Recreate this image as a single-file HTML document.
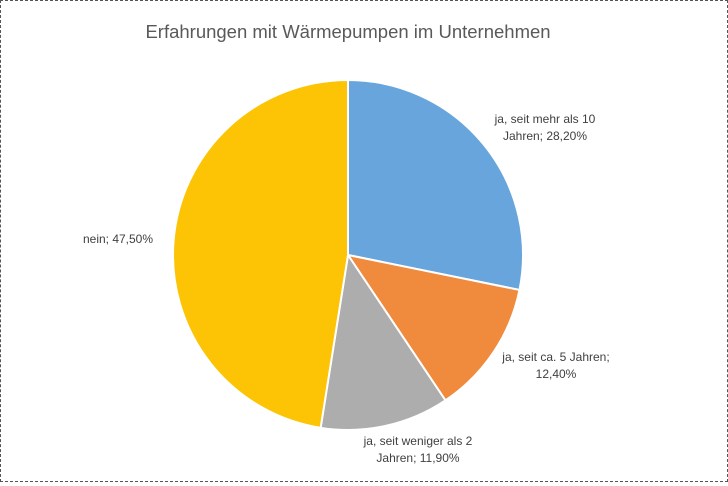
<!DOCTYPE html>
<html><head><meta charset="utf-8"><style>
body{margin:0;background:#fff;}
#wrap{position:relative;width:728px;height:482px;box-sizing:border-box;border:1px dashed #555;background:#fff;font-family:"Liberation Sans",sans-serif;}
</style></head><body>
<div id="wrap">
<svg id="svg" width="726" height="480">
<text x="347" y="37" text-anchor="middle" font-size="18.5" fill="#595959">Erfahrungen mit Wärmepumpen im Unternehmen</text>
</svg>
</div>
<script>
const categories=["ja, seit mehr als 10 Jahren","ja, seit ca. 5 Jahren","ja, seit weniger als 2 Jahren","nein"];
const values=[28.2,12.4,11.9,47.5];
const valueLabels=["28,20%","12,40%","11,90%","47,50%"];
const colors=["#67a5dc","#f08a3c","#adadad","#fcc404"];
const labelLines=[["ja, seit mehr als 10","Jahren; 28,20%"],["ja, seit ca. 5 Jahren;","12,40%"],["ja, seit weniger als 2","Jahren; 11,90%"],["nein; 47,50%"]];
const labelPos=[[544,122],[555,360],[417,444],[117,242]];
const svg=document.getElementById('svg');
const NS='http://www.w3.org/2000/svg';
const cx=347,cy=254,r=175;
const total=values.reduce((a,b)=>a+b,0);
let a0=0;
values.forEach((v,i)=>{
  const a1=a0+v/total*2*Math.PI;
  const x0=cx+r*Math.sin(a0),y0=cy-r*Math.cos(a0),x1=cx+r*Math.sin(a1),y1=cy-r*Math.cos(a1);
  const p=document.createElementNS(NS,'path');
  p.setAttribute('d',`M${cx},${cy}L${x0},${y0}A${r},${r} 0 ${a1-a0>Math.PI?1:0} 1 ${x1},${y1}Z`);
  p.setAttribute('fill',colors[i]);p.setAttribute('stroke','#fff');p.setAttribute('stroke-width','2');
  
  
  svg.appendChild(p);
  a0=a1;
});
labelLines.forEach((ls,i)=>{
  const t=document.createElementNS(NS,'text');
  t.setAttribute('x',labelPos[i][0]);t.setAttribute('y',labelPos[i][1]);
  t.setAttribute('text-anchor','middle');t.setAttribute('font-size','12');t.setAttribute('fill','#404040');
  
  
  ls.forEach((l,j)=>{const s=document.createElementNS(NS,'tspan');s.setAttribute('x',labelPos[i][0]);s.setAttribute('dy',j?17:0);s.textContent=l;t.appendChild(s);});
  svg.appendChild(t);
});
</script>
</body></html>
